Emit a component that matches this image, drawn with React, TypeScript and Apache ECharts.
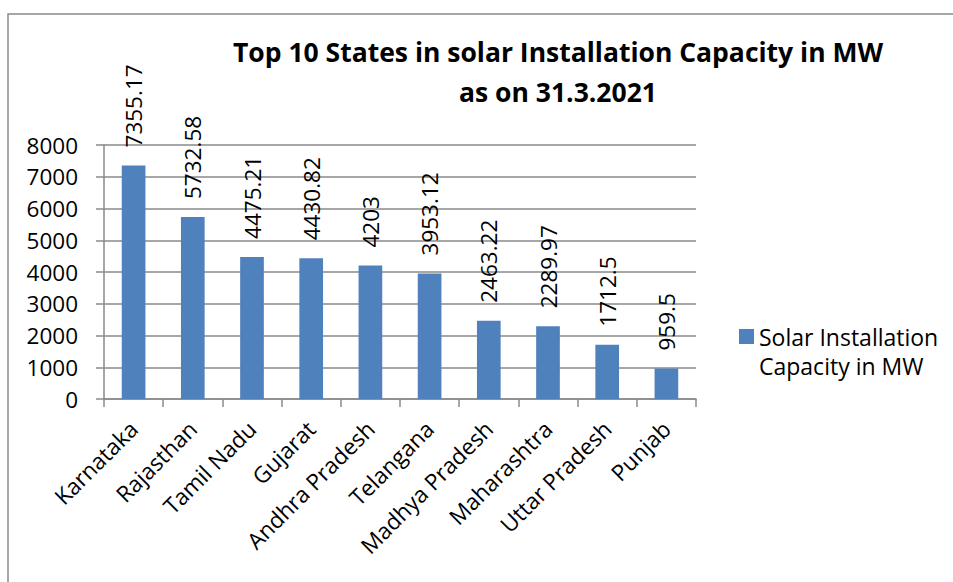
import React, { useEffect, useRef } from "react";
import * as echarts from "echarts";

const categories = [
  "Karnataka",
  "Rajasthan",
  "Tamil Nadu",
  "Gujarat",
  "Andhra Pradesh",
  "Telangana",
  "Madhya Pradesh",
  "Maharashtra",
  "Uttar Pradesh",
  "Punjab",
];
const capacityValues = [7355.17, 5732.58, 4475.21, 4430.82, 4203, 3953.12, 2463.22, 2289.97, 1712.5, 959.5];
const seriesName = "Solar Installation Capacity in MW";
const titleLines = ["Top 10 States in solar Installation Capacity in MW", "as on 31.3.2021"];
const legendLines = ["", "Solar Installation", "Capacity in MW"];

const FONT = "'Open Sans', sans-serif";
const FS = 22.5;

export default function App() {
  const ref = useRef<HTMLDivElement>(null);
  useEffect(() => {
    if (!ref.current) return;
    const chart = echarts.init(ref.current, undefined, { renderer: "svg" });
    chart.setOption({
      animation: false,
      backgroundColor: "#ffffff",
      textStyle: { fontFamily: FONT },
      title: {
        text: titleLines.join("\n"),
        left: 558,
        top: 32,
        padding: 0,
        textAlign: "center",
        textStyle: {
          fontFamily: FONT,
          fontWeight: "bold",
          fontSize: 26.5,
          lineHeight: 40,
          color: "#000",
        },
      },
      graphic: [
        {
          type: "rect",
          shape: { x: 8, y: 14, width: 1000, height: 1000 },
          style: { fill: "none", stroke: "#8a8a8a", lineWidth: 1.5 },
          silent: true,
        },
      ],
      legend: {
        left: 739,
        top: 293,
        padding: 0,
        itemWidth: 15,
        itemHeight: 15,
        itemGap: 5,
        icon: "rect",
        formatter: () => legendLines.join("\n"),
        textStyle: {
          fontFamily: FONT,
          fontSize: 23,
          lineHeight: 29,
          color: "#000",
        },
        data: [seriesName],
      },
      grid: { left: 104, top: 145, right: 257, bottom: 183, containLabel: false },
      xAxis: {
        type: "category",
        data: categories,
        axisLine: { lineStyle: { color: "#8a8a8a", width: 1.5 } },
        axisTick: { show: true, length: 8, lineStyle: { color: "#8a8a8a", width: 1.5 } },
        axisLabel: {
          rotate: 45,
          margin: 26,
          interval: 0,
          fontFamily: FONT,
          fontSize: FS,
          color: "#000",
        },
      },
      yAxis: {
        type: "value",
        min: 0,
        max: 8000,
        interval: 1000,
        axisLine: { show: true, lineStyle: { color: "#8a8a8a", width: 1.5 } },
        axisTick: { show: true, length: 8, lineStyle: { color: "#8a8a8a", width: 1.5 } },
        splitLine: { show: true, lineStyle: { color: "#8a8a8a", width: 1.5 } },
        axisLabel: {
          margin: 26,
          fontFamily: FONT,
          fontSize: FS,
          color: "#000",
          formatter: (v: number) => String(v),
        },
      },
      series: [
        {
          name: seriesName,
          type: "bar",
          data: capacityValues,
          barWidth: "40%",
          itemStyle: { color: "#4f81bd" },
          label: {
            show: true,
            position: "top",
            rotate: 90,
            align: "left",
            verticalAlign: "middle",
            distance: 18,
            fontFamily: FONT,
            fontSize: FS,
            color: "#000",
            formatter: (p: any) => String(p.value),
          },
        },
      ],
    });
    return () => chart.dispose();
  }, []);
  return (
    <div
      ref={ref}
      style={{ position: "absolute", left: 0, top: 0, width: 953, height: 582 }}
    />
  );
}
